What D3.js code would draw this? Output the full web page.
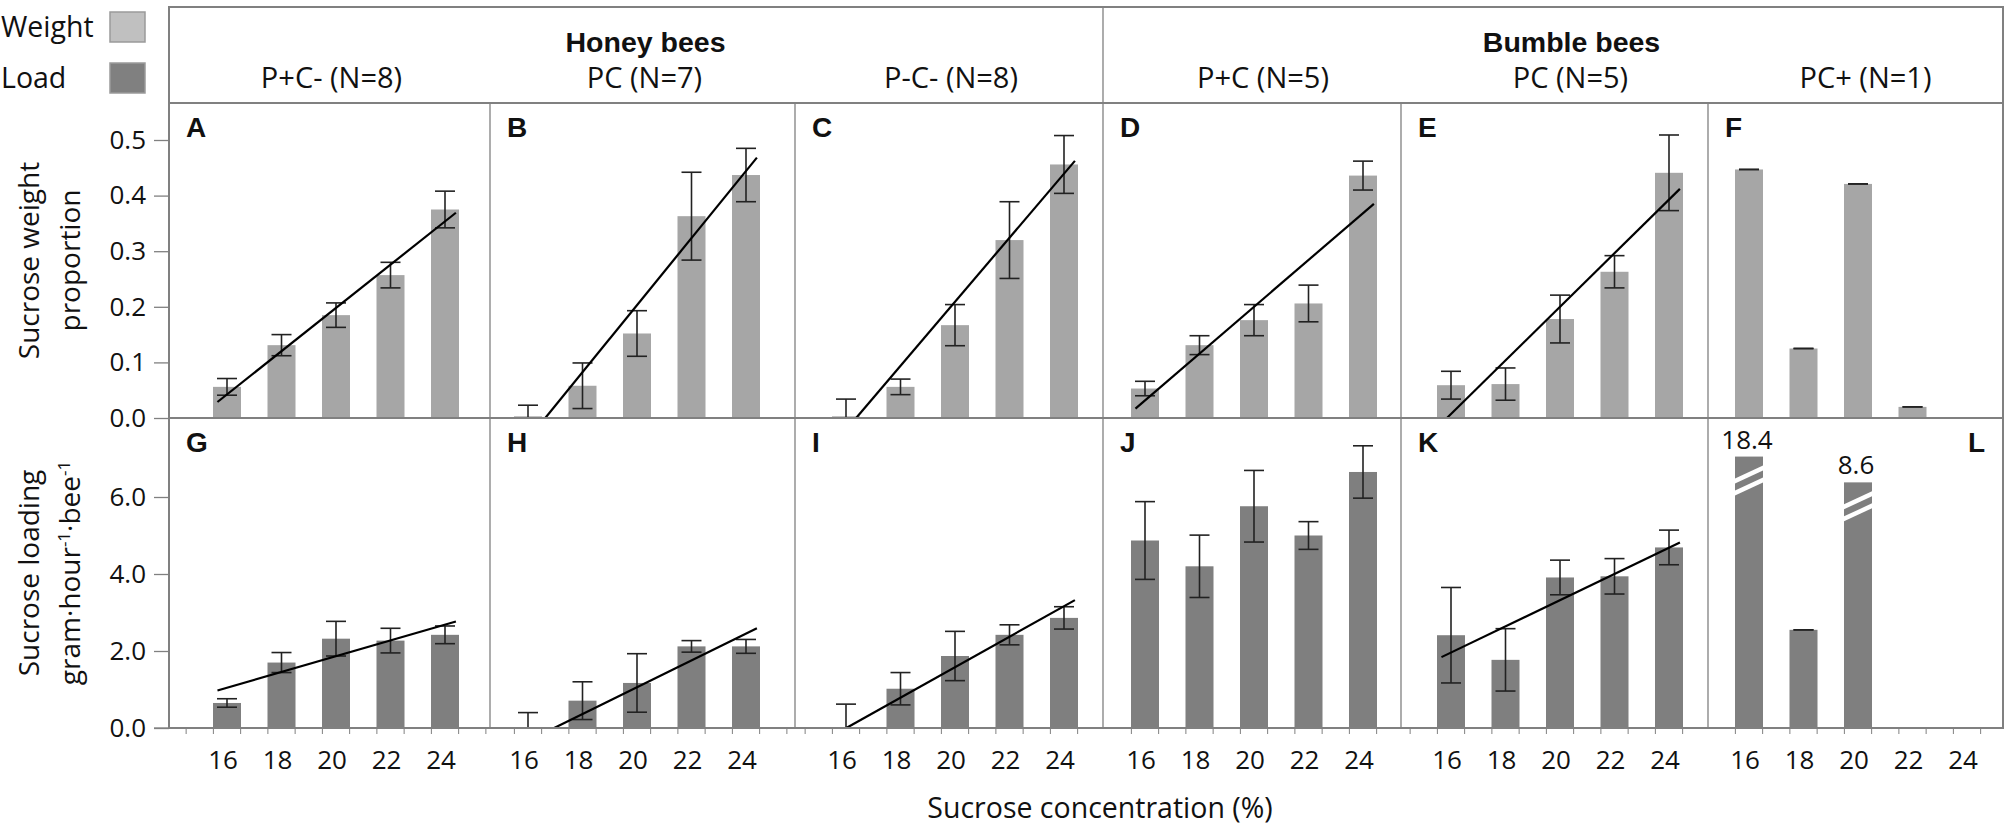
<!DOCTYPE html>
<html>
<head>
<meta charset="utf-8">
<script src="https://cdn.jsdelivr.net/npm/d3@7"></script>
<style>
  body { margin: 0; background: #fff; }
  text { font-family: "Open Sans", "Noto Sans", sans-serif; fill: #111; }
  .bold { font-family: "Liberation Sans", Arial, sans-serif; font-weight: bold; }
</style>
</head>
<body>
<div id="chart"></div>
<script>
// ---- data ----
const concentrations = [16, 18, 20, 22, 24];
const groups = ["Honey bees", "Bumble bees"];
const treatments = ["P+C- (N=8)", "PC (N=7)", "P-C- (N=8)", "P+C (N=5)", "PC (N=5)", "PC+ (N=1)"];
const weightPanels = ["A", "B", "C", "D", "E", "F"];
const loadPanels = ["G", "H", "I", "J", "K", "L"];

// sucrose weight proportion, mean and SE per treatment
const weightMeans = [
  [0.056, 0.131, 0.185, 0.257, 0.375],
  [0.003, 0.058, 0.152, 0.363, 0.437],
  [0.003, 0.056, 0.167, 0.320, 0.456],
  [0.053, 0.131, 0.176, 0.206, 0.436],
  [0.059, 0.061, 0.178, 0.263, 0.441],
  [0.447, 0.125, 0.421, 0.020, null]
];
const weightSE = [
  [0.015, 0.019, 0.022, 0.023, 0.033],
  [0.020, 0.041, 0.041, 0.079, 0.048],
  [0.031, 0.014, 0.037, 0.069, 0.052],
  [0.013, 0.017, 0.028, 0.033, 0.026],
  [0.025, 0.029, 0.043, 0.029, 0.068],
  [0, 0, 0, 0, null]
];
// sucrose loading, gram per hour per bee
const loadMeans = [
  [0.65, 1.70, 2.32, 2.27, 2.42],
  [0.02, 0.71, 1.17, 2.12, 2.12],
  [0.02, 1.02, 1.87, 2.42, 2.86],
  [4.87, 4.20, 5.76, 5.00, 6.65],
  [2.41, 1.77, 3.91, 3.94, 4.69],
  [18.4, 2.55, 8.6, null, null]
];
const loadSE = [
  [0.11, 0.26, 0.45, 0.32, 0.23],
  [0.38, 0.49, 0.76, 0.15, 0.18],
  [0.60, 0.42, 0.64, 0.26, 0.29],
  [1.01, 0.81, 0.93, 0.36, 0.68],
  [1.24, 0.81, 0.45, 0.46, 0.45],
  [0, 0, 0, null, null]
];
// height at which off-scale bars in L are cut (axis break)
const loadBreakAt = [7.05, null, 6.38, null, null];

// linear trend lines [slope, intercept]; null = no trend line
const weightTrend = [[0.0389, -0.580], [0.0603, -1.003], [0.0576, -0.943], [0.0421, -0.642], [0.0482, -0.764], null];
const loadTrend = [[0.205, -2.234], [0.348, -5.902], [0.396, -6.340], null, [0.340, -3.48], null];
const trendRange = [15.65, 24.4];

const weightTicks = [0, 0.1, 0.2, 0.3, 0.4, 0.5];
const loadTicks = [0, 2, 4, 6];

// ---- layout ----
const width = 2008, height = 831;
const colEdges = [169, 490, 795, 1103, 1401, 1708, 2003];
const firstBar = [227, 528, 846, 1145, 1451, 1749];
const unit = 27.25;
const frameTop = 7, headerBottom = 103, rowSplit = 418, frameBottom = 728;
const barW = 28, capW = 20;
const weightColor = "#a6a6a6", loadColor = "#7f7f7f", frameColor = "#808080";
const groupShift = [3, 17], labelShift = [2, 2, 2, 11, 16, 10];

const svg = d3.select("#chart").append("svg")
    .attr("width", width)
    .attr("height", height);

const yW = d3.scaleLinear().domain([0, 0.5]).range([rowSplit, 140]);
const yL = d3.scaleLinear().domain([0, 6]).range([frameBottom, 497]);

const xScale = i => d3.scaleLinear().domain([16, 24]).range([firstBar[i], firstBar[i] + 8 * unit]);

// Legend
const legend = svg.append("g");
[["Weight", "#c0c0c0", 27], ["Load", "#808080", 78]].forEach(([name, color, cy]) => {
    legend.append("text")
        .attr("x", 1)
        .attr("y", cy + 10)
        .attr("font-size", 28.5)
        .text(name);
    legend.append("rect")
        .attr("x", 110)
        .attr("y", cy - 15)
        .attr("width", 35)
        .attr("height", 30)
        .attr("fill", color)
        .attr("stroke", "#9a9a9a")
        .attr("stroke-width", 1.5);
});

// Header
const header = svg.append("g");
groups.forEach((g, gi) => {
    const cx = (colEdges[gi * 3 + 1] + colEdges[gi * 3 + 2]) / 2 + groupShift[gi];
    header.append("text")
        .attr("class", "bold")
        .attr("x", cx)
        .attr("y", 52)
        .attr("text-anchor", "middle")
        .attr("font-size", 28.5)
        .text(g);
});
treatments.forEach((t, i) => {
    header.append("text")
        .attr("x", (colEdges[i] + colEdges[i + 1]) / 2 + labelShift[i])
        .attr("y", 88)
        .attr("text-anchor", "middle")
        .attr("font-size", 29)
        .text(t);
});

// Panels
function drawPanel(i, means, se, trend, y, color, letter, yTop, breakAt) {
    const x = xScale(i);
    const g = svg.append("g");
    const y0 = y(0);

    concentrations.forEach((c, j) => {
        const v = means[i][j];
        if (v == null) return;
        const shown = breakAt && breakAt[j] != null ? breakAt[j] : v;
        g.append("rect")
            .attr("x", x(c) - barW / 2)
            .attr("y", y(shown))
            .attr("width", barW)
            .attr("height", y0 - y(shown))
            .attr("fill", color);

        if (breakAt && breakAt[j] != null) {
            // axis-break stripes and true value label
            const yt = y(shown);
            const xl = x(c) - barW / 2, xr = x(c) + barW / 2;
            [[9, 22], [21, 34]].forEach(([dr, dl]) => {
                g.append("polygon")
                    .attr("points", [[xl, yt + dl], [xr, yt + dr], [xr, yt + dr + 5], [xl, yt + dl + 5]].join(" "))
                    .attr("fill", "#fff");
            });
            g.append("text")
                .attr("x", x(c) - 2)
                .attr("y", yt - 8)
                .attr("text-anchor", "middle")
                .attr("font-size", 26)
                .text(d3.format(".1f")(v));
            return;
        }

        const e = se[i][j];
        const lo = y(Math.max(0, v - e)), hi = y(v + e);
        g.append("line")
            .attr("x1", x(c)).attr("x2", x(c))
            .attr("y1", lo).attr("y2", hi)
            .attr("stroke", "#222").attr("stroke-width", 1.6);
        [lo, hi].forEach(yy => {
            g.append("line")
                .attr("x1", x(c) - capW / 2).attr("x2", x(c) + capW / 2)
                .attr("y1", yy).attr("y2", yy)
                .attr("stroke", "#222").attr("stroke-width", 1.6);
        });
    });

    if (trend[i]) {
        const [m, b] = trend[i];
        const c0 = Math.max(trendRange[0], -b / m);
        const c1 = trendRange[1];
        g.append("line")
            .attr("x1", x(c0)).attr("y1", y(m * c0 + b))
            .attr("x2", x(c1)).attr("y2", y(m * c1 + b))
            .attr("stroke", "#000").attr("stroke-width", 2.2);
    }

    // panel letter
    const right = letter === "L";
    g.append("text")
        .attr("class", "bold")
        .attr("x", right ? colEdges[i + 1] - 18 : colEdges[i] + 17)
        .attr("y", yTop + 34)
        .attr("text-anchor", right ? "end" : "start")
        .attr("font-size", 28)
        .text(letter);
}

weightPanels.forEach((p, i) => drawPanel(i, weightMeans, weightSE, weightTrend, yW, weightColor, p, headerBottom, null));
loadPanels.forEach((p, i) => drawPanel(i, loadMeans, loadSE, loadTrend, yL, loadColor, p, rowSplit, i === 5 ? loadBreakAt : null));

// Frame and dividers
const frame = svg.append("g").attr("fill", "none");
frame.append("rect")
    .attr("x", colEdges[0]).attr("y", frameTop)
    .attr("width", colEdges[6] - colEdges[0])
    .attr("height", frameBottom - frameTop)
    .attr("stroke", frameColor).attr("stroke-width", 2);
frame.append("line")
    .attr("x1", colEdges[0]).attr("x2", colEdges[6])
    .attr("y1", headerBottom).attr("y2", headerBottom)
    .attr("stroke", frameColor).attr("stroke-width", 2);
frame.append("line")
    .attr("x1", colEdges[0]).attr("x2", colEdges[6])
    .attr("y1", rowSplit).attr("y2", rowSplit)
    .attr("stroke", frameColor).attr("stroke-width", 2);
colEdges.slice(1, 6).forEach((xe, k) => {
    frame.append("line")
        .attr("x1", xe).attr("x2", xe)
        .attr("y1", k === 2 ? frameTop : headerBottom).attr("y2", frameBottom)
        .attr("stroke", frameColor).attr("stroke-width", 1.3);
});

// Y axes
function yAxis(scale, ticks) {
    const g = svg.append("g").attr("transform", `translate(${colEdges[0]},0)`);
    g.call(d3.axisLeft(scale).tickValues(ticks).tickFormat(d3.format(".1f")).tickSize(15).tickPadding(8));
    g.select(".domain").remove();
    g.selectAll(".tick line").attr("stroke", frameColor).attr("stroke-width", 1.3);
    g.selectAll(".tick text")
        .attr("font-size", 26)
        .attr("font-family", "'Open Sans', sans-serif")
        .attr("fill", "#111");
}
yAxis(yW, weightTicks);
yAxis(yL, loadTicks);

// X axes (ticks at half units, labels at bars)
colEdges.slice(0, 6).forEach((left, i) => {
    const x = xScale(i);
    const g = svg.append("g");
    const halfTicks = d3.range(14.5, 26, 1).filter(c => x(c) > left + 2 && x(c) < colEdges[i + 1] - 2);
    g.selectAll("line").data(halfTicks).enter().append("line")
        .attr("x1", d => x(d)).attr("x2", d => x(d))
        .attr("y1", frameBottom).attr("y2", frameBottom + 6)
        .attr("stroke", frameColor).attr("stroke-width", 1);
    g.selectAll("text").data(concentrations).enter().append("text")
        .attr("x", d => x(d) - 4)
        .attr("y", frameBottom + 41)
        .attr("text-anchor", "middle")
        .attr("font-size", 26)
        .text(d => d);
});
svg.append("line")
    .attr("x1", colEdges[0] - 15).attr("x2", colEdges[0])
    .attr("y1", frameBottom).attr("y2", frameBottom)
    .attr("stroke", frameColor).attr("stroke-width", 1.3);

// Axis titles
svg.append("text")
    .attr("x", 1100)
    .attr("y", 818)
    .attr("text-anchor", "middle")
    .attr("font-size", 28.5)
    .text("Sucrose concentration (%)");

const titleW = svg.append("text")
    .attr("transform", `translate(0,${(headerBottom + rowSplit) / 2}) rotate(-90)`)
    .attr("text-anchor", "middle")
    .attr("font-size", 28);
titleW.append("tspan").attr("x", 0).attr("y", 39).text("Sucrose weight");
titleW.append("tspan").attr("x", 0).attr("y", 80).text("proportion");

const titleL = svg.append("text")
    .attr("transform", `translate(0,${(rowSplit + frameBottom) / 2}) rotate(-90)`)
    .attr("text-anchor", "middle")
    .attr("font-size", 28);
titleL.append("tspan").attr("x", 0).attr("y", 39).text("Sucrose loading");
const l2 = titleL.append("tspan").attr("x", 0).attr("y", 80);
l2.append("tspan").text("gram·hour");
l2.append("tspan").attr("font-size", 17).attr("dy", -10).text("-1");
l2.append("tspan").attr("dy", 10).text("·bee");
l2.append("tspan").attr("font-size", 17).attr("dy", -10).text("-1");
</script>
</body>
</html>
